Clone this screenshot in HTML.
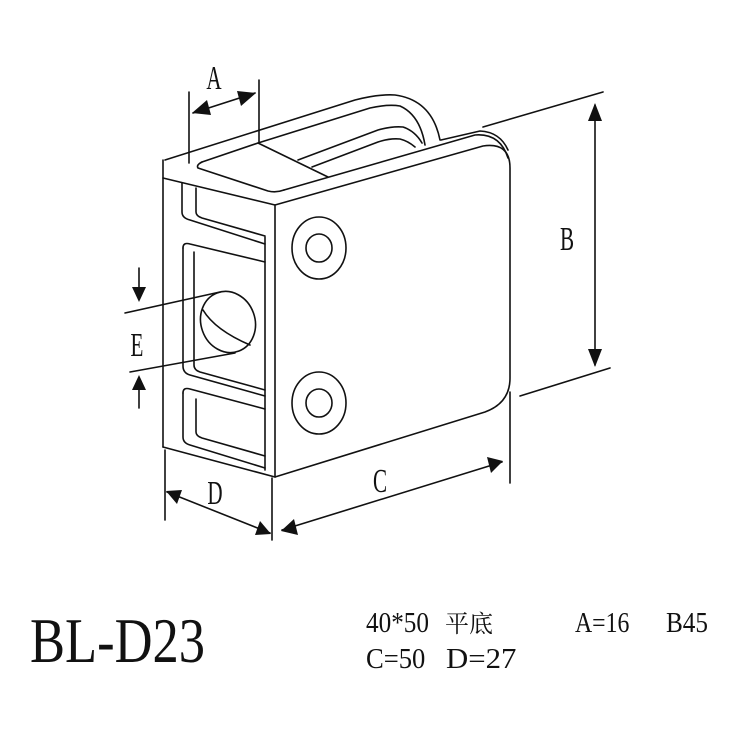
<!DOCTYPE html>
<html><head><meta charset="utf-8"><style>
html,body{margin:0;padding:0;background:#fff;}
svg{display:block;}
</style></head><body>
<svg width="740" height="740" viewBox="0 0 740 740" xmlns="http://www.w3.org/2000/svg">
<g fill="none" stroke="#111" stroke-width="1.6" stroke-linejoin="round" stroke-linecap="round">
<path d="M165,160 L355,100 Q378,94 395,95 Q432,100 440,140"/>
<path d="M258,143 L370,108 Q388,104 400,106 Q420,115 425,145"/>
<path d="M298,160 L378,130 Q392,126 403,127 Q415,131 422,143"/>
<path d="M312,167 L378,142 Q390,138 400,139 Q408,141 415,147"/>
<path d="M163,160 L163,447"/>
<path d="M163,178 L275,205"/>
<path d="M202,162 Q196,165 198,168 L268,191 Q276,193 284,190"/>
<path d="M202,162 L258,143 L328,177"/>
<path d="M284,190 L475,135 Q500,133 508,158"/>
<path d="M182,183 L182,212 Q182,218 190,220 L265,244"/>
<path d="M196,188 L196,212 Q196,216 202,218 L265,236"/>
<path d="M183,248 Q183,242 190,244 L265,262"/>
<path d="M183,248 L183,366 Q183,373 190,375 L265,396"/>
<path d="M194,252 L194,365 Q194,370 200,372 L265,390"/>
<path d="M183,393 Q183,387 190,389 L265,409"/>
<path d="M183,393 L183,437 Q183,443 190,445 L265,468"/>
<path d="M196,399 L196,432 Q196,436 202,438 L265,456"/>
<path d="M265,237 L265,470"/>
<path d="M163,447 L275,477"/>
<ellipse cx="228" cy="322" rx="27" ry="31" transform="rotate(-20 228 322)"/>
<path d="M203,310 Q215,330 250,345"/>
<path d="M441,140 L480,131 Q500,132 508,150"/>
<path d="M275,205 L275,477 L485,412 Q510,403 510,378 L510,168 Q510,142 483,146 Z"/>
<ellipse cx="319" cy="248" rx="27" ry="31"/>
<ellipse cx="319" cy="248" rx="13" ry="14"/>
<ellipse cx="319" cy="403" rx="27" ry="31"/>
<ellipse cx="319" cy="403" rx="13" ry="14"/>
<path d="M189,92 L189,163"/><path d="M259,80 L259,143"/><path d="M193,113 L255,93"/>
<path d="M483,127 L603,92"/><path d="M520,396 L610,368"/><path d="M595,105 L595,365"/>
<path d="M510,392 L510,483"/><path d="M282,530 L502,462"/>
<path d="M165,450 L165,520"/><path d="M272,478 L272,540"/><path d="M167,492 L270,533"/>
<path d="M125,313 L220,292"/><path d="M130,372 L235,353"/>
<path d="M139,268 L139,292"/><path d="M139,385 L139,408"/>
</g>
<g fill="#111" stroke="none">
<polygon points="192,113 207,100 211,115"/>
<polygon points="256,93 241,106 237,91"/>
<polygon points="595,103 588,121 602,121"/>
<polygon points="595,367 588,349 602,349"/>
<polygon points="281,531 294,519 298,535"/>
<polygon points="503,461 487,457 491,473"/>
<polygon points="166,491 182,490 177,504"/>
<polygon points="271,534 255,535 260,521"/>
<polygon points="139,302 132,287 146,287"/>
<polygon points="139,375 132,390 146,390"/>
</g>
<g font-family="'Liberation Serif', serif" fill="#111">
<text x="214" y="89" font-size="34" text-anchor="middle" transform="translate(214 0) scale(0.62 1) translate(-214 0)">A</text>
<text x="567" y="250" font-size="34" text-anchor="middle" transform="translate(567 0) scale(0.62 1) translate(-567 0)">B</text>
<text x="380" y="492" font-size="34" text-anchor="middle" transform="translate(380 0) scale(0.62 1) translate(-380 0)">C</text>
<text x="215" y="504" font-size="34" text-anchor="middle" transform="translate(215 0) scale(0.62 1) translate(-215 0)">D</text>
<text x="137" y="356" font-size="34" text-anchor="middle" transform="translate(137 0) scale(0.62 1) translate(-137 0)">E</text>
<text x="30" y="662" font-size="64" textLength="175" lengthAdjust="spacingAndGlyphs">BL-D23</text>
<text transform="translate(366 632) scale(0.9 1)" font-size="28">40*50</text>
<text x="445" y="632" font-size="24" font-family="'Noto Serif CJK SC', 'Noto Sans CJK SC', serif">平底</text>
<text transform="translate(575 632) scale(0.85 1)" font-size="28">A=16</text>
<text transform="translate(666 632) scale(0.9 1)" font-size="28">B45</text>
<text transform="translate(366 668) scale(0.95 1)" font-size="28">C=50</text>
<text transform="translate(446 668) scale(1.1 1)" font-size="28">D=27</text>
</g>
</svg>
</body></html>
